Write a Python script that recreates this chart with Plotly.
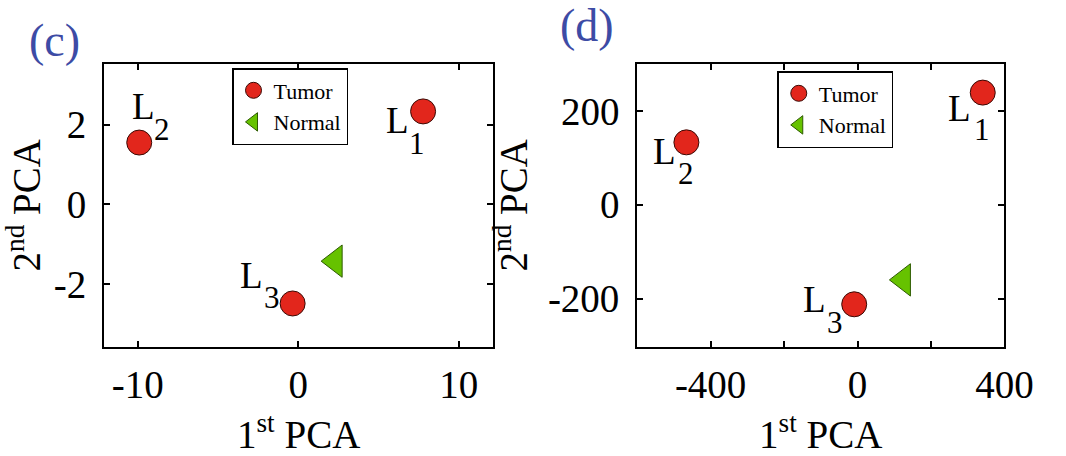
import plotly.graph_objects as go

# PCA scores of the three tumour lines and the normal sample (panel c)
labels = ["1", "2", "3"]
c_tumor_pc1 = [7.78, -9.91, -0.35]
c_tumor_pc2 = [2.33, 1.55, -2.48]
c_normal_pc1 = [2.3]
c_normal_pc2 = [-1.42]

# PCA scores for panel d
d_tumor_pc1 = [341, -466, -9]
d_tumor_pc2 = [239, 133, -212]
d_normal_pc1 = [125]
d_normal_pc2 = [-160]

c_xticks = [-10, 0, 10]
c_xtext = ["-10", "0", "10"]
c_yticks = [-2, 0, 2]
c_ytext = ["-2", "0", "2"]
d_xticks = [-400, 0, 400]
d_xtext = ["-400", "0", "400"]
d_yticks = [-200, 0, 200]
d_ytext = ["-200", "0", "200"]

FONT = "Liberation Serif"
RED = "#e2261c"
GREEN = "#66c200"
BLUE = "#3d4ba5"

# label offsets (px) for the "L" and its index digit around each tumour point
c_L_shift = [(-26, -9), (4, 36), (-41, 28)]
c_d_shift = [(-6, -32), (23, 13), (-21, 6)]
d_L_shift = [(-23, -16), (-22, -9), (-40, 5)]
d_d_shift = [(-1, -37), (0, -31), (-19, -18)]

fig = go.Figure()


def add_panel(xa, ya, tx, ty, nx, ny, legend, L_shift, d_shift):
    fig.add_trace(go.Scatter(
        x=tx, y=ty, mode="markers", name="Tumor", xaxis=xa, yaxis=ya,
        legend=legend,
        marker=dict(symbol="circle", size=25, color=RED,
                    line=dict(color="#3a0a05", width=1))))
    fig.add_trace(go.Scatter(
        x=nx, y=ny, mode="markers", name="Normal", xaxis=xa, yaxis=ya,
        legend=legend,
        marker=dict(symbol="triangle-left", size=28, color=GREEN,
                    line=dict(color="#2d5a00", width=1))))
    for i, lab in enumerate(labels):
        fig.add_annotation(x=tx[i], y=ty[i], xref=xa, yref=ya, text="L",
                           showarrow=False, xanchor="center", yanchor="middle",
                           xshift=L_shift[i][0], yshift=L_shift[i][1],
                           font=dict(family=FONT, size=37, color="black"))
        fig.add_annotation(x=tx[i], y=ty[i], xref=xa, yref=ya, text=lab,
                           showarrow=False, xanchor="center", yanchor="middle",
                           xshift=d_shift[i][0], yshift=d_shift[i][1],
                           font=dict(family=FONT, size=31, color="black"))


add_panel("x", "y", c_tumor_pc1, c_tumor_pc2, c_normal_pc1, c_normal_pc2,
          "legend", c_L_shift, c_d_shift)
add_panel("x2", "y2", d_tumor_pc1, d_tumor_pc2, d_normal_pc1, d_normal_pc2,
          "legend2", d_L_shift, d_d_shift)

axis_common = dict(showline=True, linecolor="black", linewidth=2, mirror="ticks",
                   ticks="inside", ticklen=6, tickwidth=1.5, tickcolor="black",
                   showgrid=False, zeroline=False,
                   tickfont=dict(family=FONT, size=39, color="black"))
title_font = dict(family=FONT, size=39, color="black")

y_dom = [1 - 347 / 456, 1 - 63.5 / 456]
fig.update_layout(
    width=1066, height=456, autosize=False,
    margin=dict(l=0, r=0, t=0, b=0),
    paper_bgcolor="white", plot_bgcolor="white",
    font=dict(family=FONT, color="black"),
    xaxis=dict(domain=[107 / 1066, 507 / 1066], range=[-12.1, 12.15],
               tickvals=c_xticks, ticktext=c_xtext, anchor="y",
               ticklabelstandoff=2,
               title=dict(text="1<sup>st</sup> PCA", font=title_font, standoff=18),
               **axis_common),
    yaxis=dict(domain=y_dom, range=[-3.57, 3.53], tickvals=c_yticks,
               ticktext=c_ytext, anchor="x", ticklabelstandoff=8,
               title=dict(text="2<sup>nd</sup> PCA", font=title_font, standoff=8),
               **axis_common),
    xaxis2=dict(domain=[655 / 1066, 1032.5 / 1066], range=[-600, 400],
                tickvals=d_xticks, ticktext=d_xtext, anchor="y2",
                ticklabelstandoff=2,
                minor=dict(tick0=0, dtick=200, ticks="inside", ticklen=6,
                           tickwidth=1.5, tickcolor="black", showgrid=False),
                title=dict(text="1<sup>st</sup> PCA", font=title_font, standoff=18),
                **axis_common),
    yaxis2=dict(domain=y_dom, range=[-303, 301], tickvals=d_yticks,
                ticktext=d_ytext, anchor="x2", ticklabelstandoff=8,
                title=dict(text="2<sup>nd</sup> PCA", font=title_font, standoff=8),
                **axis_common),
    legend=dict(x=238.5 / 1066, y=1 - 68 / 456, xanchor="left", yanchor="top",
                bgcolor="white", bordercolor="black", borderwidth=1.5,
                tracegroupgap=0,
                font=dict(family=FONT, size=22, color="black")),
    legend2=dict(x=799 / 1066, y=1 - 71 / 456, xanchor="left", yanchor="top",
                 bgcolor="white", bordercolor="black", borderwidth=1.5,
                 tracegroupgap=0,
                 font=dict(family=FONT, size=22, color="black")),
    showlegend=True,
)

fig.add_annotation(text="(c)", xref="paper", yref="paper", x=56 / 1066,
                   y=1 - 40 / 456, xanchor="center", yanchor="middle",
                   showarrow=False, font=dict(family=FONT, size=46, color=BLUE))
fig.add_annotation(text="(d)", xref="paper", yref="paper", x=603 / 1066,
                   y=1 - 26 / 456, xanchor="center", yanchor="middle",
                   showarrow=False, font=dict(family=FONT, size=46, color=BLUE))

fig.write_html("out.html")
